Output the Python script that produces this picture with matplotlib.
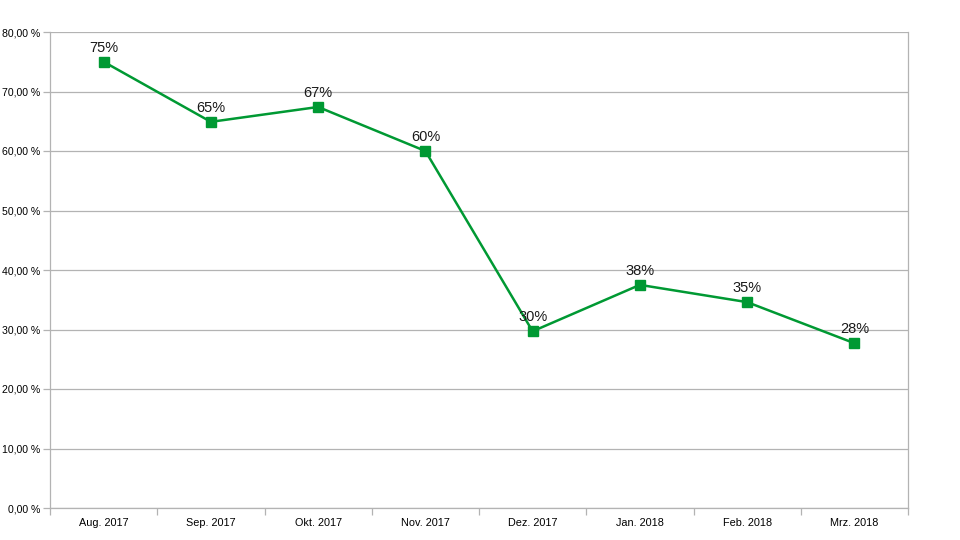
import numpy as np
import matplotlib
matplotlib.use("Agg")
import matplotlib.pyplot as plt
from matplotlib.ticker import FixedLocator, NullFormatter

plt.rcParams['font.family'] = ['Liberation Sans', 'DejaVu Sans']

# data
months = ["Aug. 2017", "Sep. 2017", "Okt. 2017", "Nov. 2017",
          "Dez. 2017", "Jan. 2018", "Feb. 2018", "Mrz. 2018"]
share = [75.0, 64.9, 67.4, 60.0, 29.7, 37.5, 34.6, 27.7]
yticks = [0, 10, 20, 30, 40, 50, 60, 70, 80]

green = "#009933"
grid_col = "#b3b3b3"

fig = plt.figure(figsize=(9.6, 5.4), dpi=100)
ax = fig.add_axes([50 / 960, 32 / 540, 858 / 960, 476 / 540])

x = np.arange(len(months))
ax.plot(x, share, color=green, lw=1.8, marker="s", ms=6.5, zorder=3)

for xi, v in zip(x, share):
    ax.annotate(f"{round(v):d}%", (xi, v), xytext=(0, 5), textcoords="offset points",
                ha="center", va="bottom", fontsize=10.5, color="#1a1a1a", zorder=4)

ax.set_xlim(-0.5, len(months) - 0.5)
ax.set_ylim(0, 80)
ax.set_yticks(yticks)
ax.set_yticklabels([f"{t},00 %" for t in yticks], fontsize=7.6)
ax.yaxis.grid(True, color=grid_col, lw=0.9)
ax.set_axisbelow(True)

# category labels centered, ticks on category boundaries
ax.set_xticks(x)
ax.set_xticklabels(months, fontsize=7.8)
ax.tick_params(axis="x", which="major", length=0, pad=7)
ax.xaxis.set_minor_locator(FixedLocator(np.arange(-0.5, len(months), 1.0)))
ax.xaxis.set_minor_formatter(NullFormatter())
ax.tick_params(axis="x", which="minor", length=5, color=grid_col, width=0.9)
ax.tick_params(axis="y", length=5, color=grid_col, width=0.9, pad=2)

ax.spines["top"].set_visible(False)
for s in ["left", "right", "bottom"]:
    ax.spines[s].set_color(grid_col)
    ax.spines[s].set_linewidth(0.9)

fig.savefig("out.png", dpi=100, facecolor="white")
